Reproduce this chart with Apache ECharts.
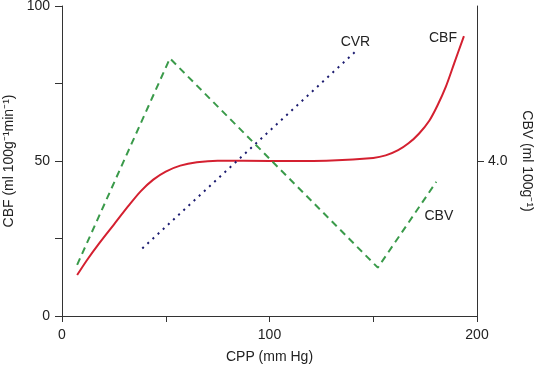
<!DOCTYPE html>
<html><head><meta charset="utf-8">
<script src="https://cdn.jsdelivr.net/npm/echarts@6/dist/echarts.min.js"></script>
<style>html,body{margin:0;padding:0;background:#fff}#c{width:537px;height:366px}</style>
</head><body><div id="c"></div>
<script>
const cbf = [[7.3,13.2],[12,18],[18,23.5],[25,29.5],[32,35.5],[38,40.3],[44,44],[50,46.6],[57,48.5],[65,49.6],[75,50.1],[100,50],[130,50.2],[150,51],[156,51.8],[162,53.5],[167,55.7],[172,58.8],[177,63],[181,68],[185,74],[189,81.5],[193.7,90.3]];
const cvr = [[38.7,21.8],[141.4,85.3]];
const cbv = [[7.3,16.5],[52,83.1],[152.2,15.6],[180.4,43.3]];
const annotations = [['CVR',141.4,88.5],['CBF',183.6,89.6],['CBV',181.6,32.3]];
const xLabels = [0,100,200];
const yLabels = [0,50,100];
const rightLabels = [[50,'4.0']];

const font = 'Liberation Sans, Arial, sans-serif';
const axisColor = '#333';
const chart = echarts.init(document.getElementById('c'));
chart.setOption({
  animation:false,
  grid:{left:62,right:60,top:6,bottom:50,containLabel:false,outerBoundsMode:'none'},
  xAxis:{type:'value',min:0,max:200,interval:50,
    name:'CPP (mm Hg)',nameLocation:'middle',nameGap:34,
    nameTextStyle:{fontFamily:font,fontSize:14,color:'#222'},
    axisLine:{lineStyle:{color:axisColor,width:1}},
    axisTick:{show:true,length:6,lineStyle:{color:axisColor}},
    axisLabel:{customValues:xLabels,margin:12,fontFamily:font,fontSize:14,color:'#222'},
    splitLine:{show:false}},
  yAxis:[{type:'value',min:0,max:100,interval:25,position:'left',
    name:'CBF (ml 100g\u207B\u00B9min\u207B\u00B9)',nameLocation:'middle',nameGap:42,
    nameTextStyle:{fontFamily:font,fontSize:14,color:'#222'},
    axisLine:{show:true,lineStyle:{color:axisColor,width:1}},
    axisTick:{show:true,length:7,lineStyle:{color:axisColor}},
    axisLabel:{customValues:yLabels,margin:12,fontFamily:font,fontSize:14,color:'#222'},
    splitLine:{show:false}},
   {type:'value',min:0,max:100,position:'right',
    name:'CBV (ml 100g\u207B\u00B9)',nameLocation:'middle',nameGap:43,nameRotate:-90,
    nameTextStyle:{fontFamily:font,fontSize:14,color:'#222'},
    axisLine:{show:true,lineStyle:{color:axisColor,width:1}},
    axisTick:{show:true,length:7,customValues:rightLabels.map(d=>d[0]),lineStyle:{color:axisColor}},
    axisLabel:{customValues:rightLabels.map(d=>d[0]),margin:11,fontFamily:font,fontSize:14,color:'#222',
      formatter:v=>{const r=rightLabels.find(d=>d[0]===v);return r?r[1]:'';}},
    splitLine:{show:false}}],
  series:[
    {type:'line',data:cbf,smooth:0.3,showSymbol:false,lineStyle:{color:'#d42030',width:2}},
    {type:'line',data:cvr,showSymbol:false,lineStyle:{color:'#1c1c70',width:2,type:[2,5]}},
    {type:'line',data:cbv,showSymbol:false,lineStyle:{color:'#3a9a4a',width:2,type:[7,5]}},
    {type:'scatter',data:annotations.map(a=>({value:[a[1],a[2]],name:a[0]})),symbolSize:1,
     itemStyle:{color:'rgba(255,255,255,0)'},silent:true,
     label:{show:true,position:'inside',formatter:p=>p.name,fontFamily:font,fontSize:14,color:'#222',opacity:1,textBorderWidth:0}}
  ]
});
</script></body></html>
